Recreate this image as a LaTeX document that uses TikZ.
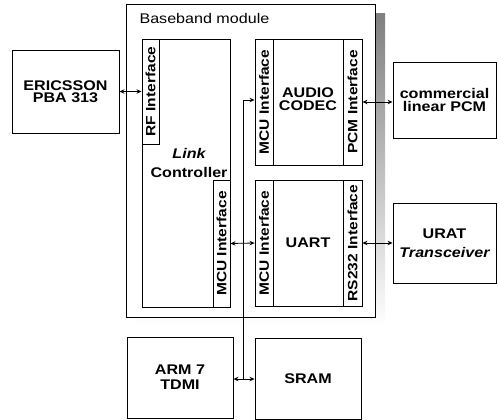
\documentclass[tikz,border=0pt]{standalone}
\usepackage{fontspec}
\setmainfont{Liberation Sans}[FakeStretch=1.15]
\usetikzlibrary{arrows.meta}

\begin{document}
\begin{tikzpicture}[x=1pt,y=-1pt,
  blk/.style={draw,line width=0.9pt,fill=white,inner sep=0pt,align=center,
    font=\bfseries\fontsize{14}{12.5}\selectfont},
  strip/.style={blk,rotate=90,minimum height=#1,font=\bfseries\fontsize{13.5}{14}\selectfont},
  biarr/.style={line width=0.8pt,{Stealth[length=5pt,width=4.5pt]}-{Stealth[length=5pt,width=4.5pt]}},
  onearr/.style={line width=0.8pt,-{Stealth[length=5pt,width=4.5pt]}}]
\definecolor{shade}{gray}{0.55}
\useasboundingbox (0,0) rectangle (498,420);
% baseband module with its shadow
\fill[shade] (136,14) rectangle (385,327);
\node[draw,line width=0.9pt,fill=white,minimum width=249pt,minimum height=313pt,anchor=north west,outer sep=0pt] (bb) at (126,4) {};
\node[anchor=west,font=\fontsize{14}{14}\selectfont] (bbtitle) at (136,18) {Baseband module};
% link controller
\node[blk,minimum width=88pt,minimum height=268pt] (lc) at (186,173) {};
\node[font=\bfseries\fontsize{14}{19}\selectfont,align=center] (lctxt) at (189,163) {\itshape Link\\Controller};
\node[strip=17pt,minimum width=105pt] (rfif) at (150.5,91.5) {RF Interface};
\node[strip=17pt,minimum width=127pt] (lcmcu) at (221.5,243.5) {MCU Interface};
% audio codec
\node[blk,minimum width=107pt,minimum height=126pt] (codec) at (308.5,102) {};
\node[font=\bfseries\fontsize{14}{12.5}\selectfont,align=center] (codectxt) at (308,99) {AUDIO\\CODEC};
\node[strip=18pt,minimum width=126pt] (codecmcu) at (264,102) {MCU Interface};
\node[strip=19pt,minimum width=126pt] (pcmif) at (352.5,102) {PCM Interface};
% uart
\node[blk,minimum width=107pt,minimum height=126pt] (uart) at (308.5,243) {};
\node[font=\bfseries\fontsize{14}{12.5}\selectfont] (uarttxt) at (308,243) {UART};
\node[strip=18pt,minimum width=126pt] (uartmcu) at (264,243) {MCU Interface};
\node[strip=19pt,minimum width=126pt] (rs232if) at (352.5,243) {RS232 Interface};
% outside parts
\node[blk,minimum width=107pt,minimum height=83pt] (ericsson) at (65.5,91.5) {ERICSSON\\PBA 313};
\node[blk,minimum width=103pt,minimum height=76pt] (pcm) at (444.5,100) {commercial\\linear PCM};
\node[blk,minimum width=103pt,minimum height=80pt,font=\bfseries\fontsize{14}{19}\selectfont] (urat) at (444.5,243) {URAT\\\itshape Transceiver};
\node[blk,minimum width=106pt,minimum height=81pt,font=\bfseries\fontsize{14}{15}\selectfont] (arm) at (180,377.5) {ARM 7\\TDMI};
\node[blk,minimum width=106pt,minimum height=81pt] (sram) at (308,378.5) {SRAM};
% bus
\coordinate (bustop) at (243,100);
\coordinate (busbot) at (243,379);
\draw[onearr] (busbot) -- (bustop) -- (bustop -| codecmcu.north);
\draw[biarr] (arm.east |- busbot) -- (sram.west |- busbot);
\draw[biarr] (lcmcu.south) -- (uartmcu.north);
% links
\draw[biarr] (ericsson.east) -- (rfif.north);
\draw[biarr] (pcmif.south) -- (pcmif.south -| pcm.west);
\draw[biarr] (rs232if.south) -- (urat.west);
\end{tikzpicture}
\end{document}
